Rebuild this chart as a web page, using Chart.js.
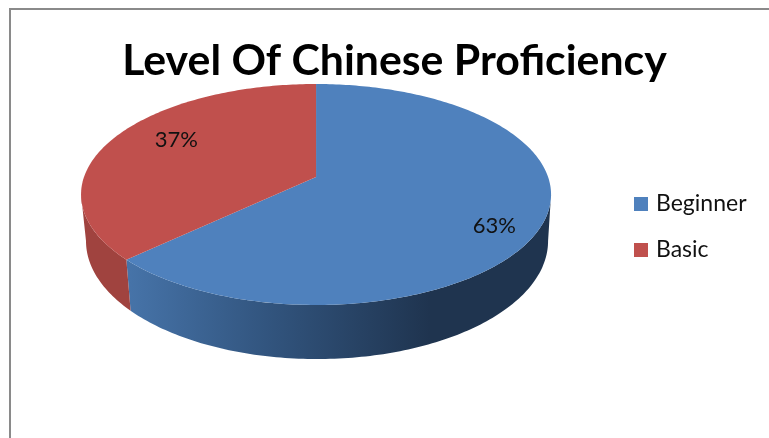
<!DOCTYPE html>
<html>
<head>
<meta charset="utf-8">
<title>Level Of Chinese Proficiency</title>
<script src="https://cdn.jsdelivr.net/npm/chart.js@4"></script>
<style>
  html, body { margin: 0; background: #fff; overflow: hidden; }
  #frame { position: absolute; left: 9px; top: 8px; width: 800px; height: 500px; border: 2px solid #8a8a8a; }
  #pie { position: absolute; left: 0; top: 0; }
</style>
</head>
<body>
<div id="frame"></div>
<canvas id="pie" width="769" height="438"></canvas>
<script>
const categories = ['Beginner', 'Basic'];
const shares = [63, 37];
const sliceColors = ['#4f81bd', '#c0504d'];

// tilt of the disc, everything is a ratio of the radius the library gives us
const TOP_FACE = { dx: -0.056, dy: -0.222, rx: 1.655, ry: 0.778 };
const BOTTOM_FACE = { dx: -0.049, dy: 0.106, rx: 1.627, ry: 0.831 };
const PERSPECTIVE = -0.158;
const LABEL_SPOTS = [{ p: 0.8, dx: -1, dy: 13 }, { p: 0.7, dx: 3, dy: -8 }];
const LEGEND_SHIFT = 43;

// moves a point of the unit disc so the centre sits behind the middle of the ellipse
function project(arc, face, angle, p = 1) {
  const u = Math.cos(angle) * p, v = Math.sin(angle) * p;
  const w = 1 + PERSPECTIVE * v;
  const r = arc.outerRadius;
  return {
    x: arc.x + face.dx * r + face.rx * r * u * Math.sqrt(1 - PERSPECTIVE * PERSPECTIVE) / w,
    y: arc.y + face.dy * r + face.ry * r * (v + PERSPECTIVE) / w
  };
}

function samples(from, to) {
  const steps = Math.max(2, Math.ceil(Math.abs(to - from) * 60));
  const out = [];
  for (let i = 0; i <= steps; i++) out.push(from + (to - from) * i / steps);
  return out;
}

// square legend swatch, wider than the slot the legend reserves so the text sits closer
function swatch(color) {
  const c = document.createElement('canvas');
  c.width = c.height = 14;
  const g = c.getContext('2d');
  g.fillStyle = color;
  g.fillRect(0, 0, 14, 14);
  return c;
}

const pie3d = {
  id: 'pie3d',
  afterLayout(chart) {
    chart.legend.top += LEGEND_SHIFT;
    chart.legend.bottom += LEGEND_SHIFT;
  },
  beforeDatasetsDraw(chart) {
    const ctx = chart.ctx;
    const arcs = chart.getDatasetMeta(0).data;
    const edge = Math.asin(-PERSPECTIVE); // where the outline turns away from the viewer

    // side wall
    arcs.forEach((arc, i) => {
      const from = Math.max(arc.startAngle, edge);
      const to = Math.min(arc.endAngle, Math.PI - edge);
      if (to <= from) return;
      const angles = samples(from, to);
      ctx.beginPath();
      angles.forEach(a => { const p = project(arc, TOP_FACE, a); ctx.lineTo(p.x, p.y); });
      angles.reverse().forEach(a => { const p = project(arc, BOTTOM_FACE, a); ctx.lineTo(p.x, p.y); });
      ctx.closePath();
      if (i === 0) {
        const g = ctx.createLinearGradient(130, 0, 430, 0);
        g.addColorStop(0, '#4673a8');
        g.addColorStop(0.45, '#32557f');
        g.addColorStop(1, '#1f344f');
        ctx.fillStyle = g;
      } else {
        ctx.fillStyle = '#a0433f';
      }
      ctx.fill();
    });

    // top face
    arcs.forEach((arc, i) => {
      ctx.beginPath();
      const c = project(arc, TOP_FACE, 0, 0);
      ctx.moveTo(c.x, c.y);
      samples(arc.startAngle, arc.endAngle).forEach(a => {
        const p = project(arc, TOP_FACE, a);
        ctx.lineTo(p.x, p.y);
      });
      ctx.closePath();
      ctx.fillStyle = sliceColors[i];
      ctx.fill();
    });
    return false; // the flat arcs stay undrawn
  },
  // afterDatasetsDraw does not fire once the hook above cancels, so the labels go here
  afterDraw(chart) {
    const ctx = chart.ctx;
    ctx.save();
    ctx.font = '22px Lato';
    ctx.fillStyle = '#111';
    ctx.textAlign = 'center';
    ctx.textBaseline = 'middle';
    chart.getDatasetMeta(0).data.forEach((arc, i) => {
      const spot = LABEL_SPOTS[i];
      const p = project(arc, TOP_FACE, (arc.startAngle + arc.endAngle) / 2, spot.p);
      ctx.fillText(shares[i] + '%', p.x + spot.dx, p.y + spot.dy);
    });
    ctx.restore();
  }
};

new Chart(document.getElementById('pie'), {
  type: 'pie',
  data: {
    labels: categories,
    datasets: [{
      data: shares,
      backgroundColor: sliceColors,
      borderWidth: 0
    }]
  },
  options: {
    responsive: false,
    animation: false,
    layout: { padding: { left: 32.5, right: 12.5, top: 0, bottom: 70 } },
    plugins: {
      tooltip: { enabled: false },
      title: {
        display: true,
        text: 'Level Of Chinese Proficiency',
        color: '#000',
        font: { family: 'Lato', size: 42.8, weight: 'bold', lineHeight: 1 },
        padding: { top: 39.5, bottom: 1.7 }
      },
      legend: {
        position: 'right',
        labels: {
          color: '#111',
          font: { family: 'Lato', size: 23 },
          usePointStyle: true,
          pointStyleWidth: 6,
          padding: 23,
          generateLabels(chart) {
            return categories.map((name, i) => ({
              text: name,
              fontColor: '#111',
              pointStyle: swatch(sliceColors[i]),
              lineWidth: 0,
              index: i
            }));
          }
        }
      }
    }
  },
  plugins: [pie3d]
});
</script>
</body>
</html>
